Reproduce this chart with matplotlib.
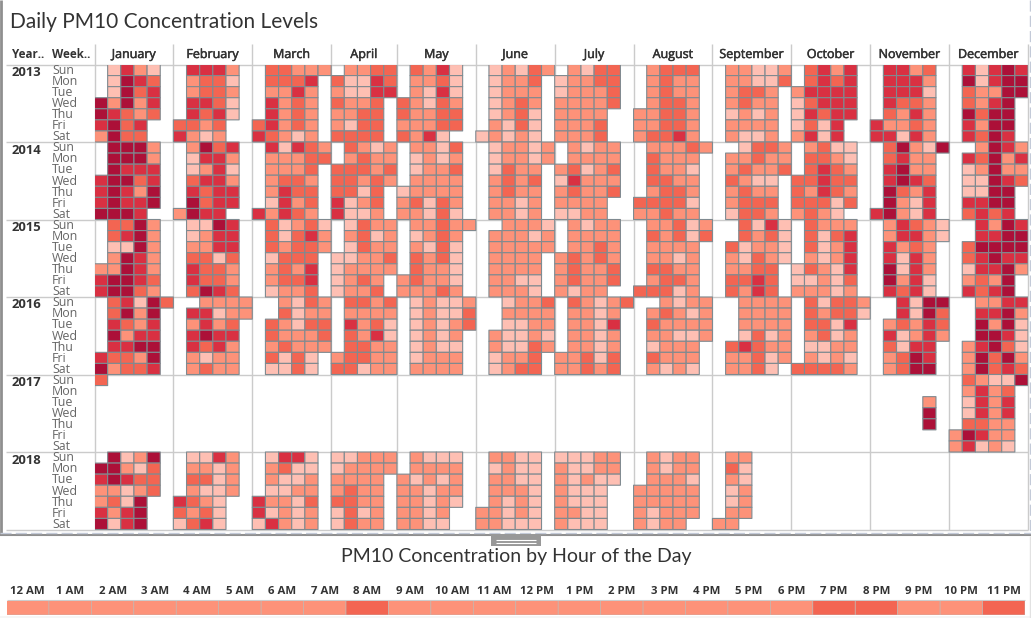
import numpy as np
import matplotlib
matplotlib.use("Agg")
import matplotlib.pyplot as plt
import matplotlib.patheffects as pe
from matplotlib.colors import ListedColormap, BoundaryNorm
from matplotlib.patches import Rectangle

W, H = 1031, 618
plt.rcParams['font.family'] = ['Open Sans', 'DejaVu Sans']

# colour levels, 1 = lightest, 5 = darkest
LEVEL_COLORS = ['#FEBFB3', '#FD9279', '#F36552', '#D93042', '#AC1038']

MONTHS = ['January', 'February', 'March', 'April', 'May', 'June', 'July',
          'August', 'September', 'October', 'November', 'December']
MONTH_COLS = [6, 6, 6, 5, 6, 6, 6, 6, 6, 6, 6, 6]
DAYS = ['Sun', 'Mon', 'Tue', 'Wed', 'Thu', 'Fri', 'Sat']
YEARS = [2013, 2014, 2015, 2016, 2017, 2018]

# one string per month, one token per weekday (Sun..Sat), one char per week column
Y2013 = [
    ".1421. .1543. .1534. 52524. 54323. 4534.. 2533..",
    ".4442. .2331. .2332. .4431. .4341. 3323.. 4212..",
    ".33222 .3334. .2242. .4232. .4232. 34232. 43212.",
    ".2233 31143 21144 3223. 2233. 2133. 3333.",
    ".3241. .2231. .2141. 32132. 32233. 22233. 3241..",
    ".12132 .1223. .1222. .1232. .1231. .2131. 12121.",
    ".2133. 12233. 12223. 22223. 2222.. 2223.. 2223..",
    ".2333. .2322. .2322. .2332. 22332. 22332. 23342.",
    ".22112 .22113 .2332. .2322. .1212. .2222. .2112.",
    ".3424. .3434. 24444. 13444. 14344. 1314.. 2414..",
    ".4423. .4442. .4441. .4332. .3242. 42232. 44142.",
    ".41454 .51455 .32255 .3245. .5355. .4255. .4354.",
]
Y2014 = [
    ".5552. .5552. .5444. 45534. 45425. 45445. 5554..",
    ".2534. .1442. .1241. .3442. .4344. .5344. 2544..",
    ".41432 .22233 .2223. .2332. .2433. .1423. 42432.",
    ".3212 .2322 33323 33232 3313. 4123. 4112.",
    ".2213. .1212. .1223. .2222. 12222. 23132. 22131.",
    ".12212 .12212 .1322. .2323. .2322. .2212. .2212.",
    ".2122. .2222. 23123. 14222. 23223. 2222.. 1122..",
    ".22232 .3222. .3221. .3322. .2332. 33331. 22322.",
    "..1332 .22322 .23223 .3211. .2322. .2333. .1332.",
    ".2311. .3321. .3432. 33433. 32432. 33313. 2321..",
    ".35215 .3422. .4522. .4543. .5324. .5214. 45214.",
    "..2542 .43524 .12522 .11543 .1155. .4455. .3434.",
]
Y2015 = [
    ".3352. .3452. .1152. .2542. 22542. 45543. 45532.",
    ".1154. .1244. .2244. .3313. .4332. .4332. .3543.",
    ".31231 .31342 .32332 .1333. .2324. .2334. .1223.",
    ".1322 .2312 .1322 11223 12222 1232. 1223.",
    ".22322 .1232. .2131. .3231. .3221. 23221. 22232.",
    "..2221 .22212 .22222 .2222. .2222. .2211. .2221.",
    ".2122. .2222. .2232. 23232. 23223. 23223. 2122..",
    ".22312 .32313 .2222. .2212. .3322. .2332. 33312.",
    "..3141 ..3231 .31221 .21321 .2233. .3343. .3243.",
    ".3222. .3134. .3124. .2124. 13214. 11213. 22212.",
    ".24321 .24421 .4232. .4142. .5142. .5241. .4341.",
    "..4254 ..4455 .35555 .34544 .14452 .2325. .4345.",
]
Y2016 = [
    ".34153 .3525. .4324. .5244. .4455. 43325. 52334.",
    "..2222 .44122 .2423. .4544. .4342. .2122. .2322.",
    "..2132 ..3122 .32133 .32223 .23222 .3131. .1131.",
    ".3323 .2222 .4231 .3241 .3322 23322 33122",
    ".12112 .12113 .12123 .1212. .1211. .1222. .2222.",
    "..1223 ..2222 ..1122 .21121 .21132 .1223. .1233.",
    ".32123 .2212. .2214. .2212. .2212. 22313. 22323.",
    "..2122 .23212 .32222 .22112 .1222. .3222. .2121.",
    "..2222 ..2222 ..2222 ..1312 .34322 .22312 .2231.",
    ".31332 .32331 .3314. .2312. .1122. .2121. 33332.",
    "..4155 ..4153 .23243 .41242 .3144. .2354. .2355.",
    "..2244 ..4452 ..5251 ..5541 .24531 .25352 .25343",
]
Y2017 = [
    "3..... ...... ...... ...... ...... ...... ......",
    None, None, None, None, None, None, None, None, None,
    "...... ...... ....2. ....5. ....5. ...... ......",
    ".32115 .2423. .1424. .1424. .3322. 25422. 24121.",
]
Y2018 = [
    ".5125. 55213. 45433. 22123. 2315.. 4245.. 5145..",
    ".1142. .2212. .3312. .2112. 4321.. 3231.. 1341..",
    ".1441. .2311. .2112. .1122. 42213. 41212. 14212.",
    "11222 12222 2222. 2322. 3322. 1312. 1322.",
    ".2111. .2222. 21212. 22122. 22121. 2212.. 2211..",
    ".2211. .1211. .2211. .2221. .2121. 22121. 22111.",
    "11122 21122 21211 2111. 2111. 2211. 2111.",
    ".2122. .2122. .2221. 22222. 22222. 21222. 2122..",
    ".22... .31... .21... .12... .12... .22... 22....",
    None, None, None,
]

HOURS = ['12 AM', '1 AM', '2 AM', '3 AM', '4 AM', '5 AM', '6 AM', '7 AM', '8 AM', '9 AM', '10 AM', '11 AM',
         '12 PM', '1 PM', '2 PM', '3 PM', '4 PM', '5 PM', '6 PM', '7 PM', '8 PM', '9 PM', '10 PM', '11 PM']
HOUR_LEVELS = [2, 2, 2, 2, 2, 2, 2, 2, 3, 2, 2, 2, 2, 2, 2, 2, 2, 2, 2, 3, 3, 2, 2, 3]


def year_grid(blocks):
    # turn the month blocks of a year into a 7 x 71 array, nan = no cell
    cols = []
    for block, n in zip(blocks, MONTH_COLS):
        if block is None:
            cols.append(np.full((7, n), np.nan))
            continue
        rows = [[np.nan if c == '.' else float(c) for c in tok.ljust(n, '.')] for tok in block.split()]
        cols.append(np.array(rows))
    return np.hstack(cols)


grid = np.vstack([year_grid(b) for b in [Y2013, Y2014, Y2015, Y2016, Y2017, Y2018]])
cmap = ListedColormap(LEVEL_COLORS)
norm = BoundaryNorm(np.arange(0.5, 6.5), 5)

fig = plt.figure(figsize=(W / 100, H / 100), dpi=100, facecolor='white')


def px_axes(x0, y0, x1, y1):
    return fig.add_axes([x0 / W, 1 - y1 / H, (x1 - x0) / W, (y1 - y0) / H])


# overlay in pixels, for the frame, the separators and the labels
ov = px_axes(0, 0, W, H)
ov.set_xlim(0, W)
ov.set_ylim(H, 0)
ov.axis('off')

GX0, GX1, GY0, GY1 = 94.5, 1028.0, 64.5, 529.5
cell_w = (GX1 - GX0) / grid.shape[1]
cell_h = (GY1 - GY0) / grid.shape[0]

# separators
LINE = '#cbcbcb'
ov.hlines(GY0, 6, GX1, color=LINE, lw=1.0, zorder=1)
for i in range(1, 7):
    ov.hlines(GY0 + i * 7 * cell_h, 6, GX1, color=LINE, lw=1.0, zorder=1)
edges = np.concatenate([[0], np.cumsum(MONTH_COLS)])
for e in edges:
    ov.vlines(GX0 + e * cell_w, 44, GY1, color=LINE, lw=1.0, zorder=1)

# calendar cells
ax = px_axes(GX0, GY0, GX1, GY1)
ax.patch.set_alpha(0)
ax.pcolor(np.arange(grid.shape[1] + 1), np.arange(grid.shape[0] + 1), np.ma.masked_invalid(grid),
          cmap=cmap, norm=norm, edgecolors='#7f8a90', linewidth=0.8)
ax.set_xlim(0, grid.shape[1])
ax.set_ylim(grid.shape[0], 0)
ax.axis('off')

# titles and headers
ov.text(10.5, 21.5, 'Daily PM10 Concentration Levels', fontsize=15.0, color='#333333', va='center', ha='left',
        family=['Lato', 'DejaVu Sans'])
ov.text(516, 556.5, 'PM10 Concentration by Hour of the Day', fontsize=14.0, color='#333333', va='center', ha='center',
        family=['Lato', 'DejaVu Sans'])
ov.text(12, 54.5, 'Year..', fontsize=8.4, fontweight='bold', color='#333333', va='center')
ov.text(52, 54.5, 'Week..', fontsize=8.4, fontweight='bold', color='#333333', va='center')
for m, a, b in zip(MONTHS, edges[:-1], edges[1:]):
    ov.text(GX0 + (a + b) / 2 * cell_w, 54.5, m, fontsize=9.0, color='#333333', va='center', ha='center',
            path_effects=[pe.withStroke(linewidth=0.35, foreground='#333333')])
for i, y in enumerate(YEARS):
    ov.text(12, GY0 + i * 7 * cell_h + 8, str(y), fontsize=9.4, fontweight='bold', color='#333333', va='center')
    for j, d in enumerate(DAYS):
        ov.text(52, GY0 + (i * 7 + j + 0.5) * cell_h + 0.3, d, fontsize=8.9, color='#666666', va='center')

# hour strip
hx = px_axes(6.5, 600.5, 1025, 615)
hx.pcolor(np.arange(25), [0, 1], np.array([HOUR_LEVELS], dtype=float), cmap=cmap, norm=norm,
          edgecolors='#c4b4ae', linewidth=0.5)
hx.set_xlim(0, 24)
hx.set_ylim(1, 0)
hx.axis('off')
hw = (1025 - 6.5) / 24
ov.hlines(600.2, 6.5, 1025, color='#cccccc', lw=0.8)
for i, h in enumerate(HOURS):
    ov.text(6.5 + (i + 0.5) * hw, 591, h, fontsize=8.2, fontweight='bold', color='#333333', va='center', ha='center')

# dashboard frame
ov.add_patch(Rectangle((0, 615.5), W, 3, fc='#f6f6f6', ec='none', zorder=0))
ov.vlines(1, 0, 535, color='#8f8f8f', lw=2)
ov.hlines(535, 0, W, color='#8f8f8f', lw=1.5, zorder=3)
ov.hlines(533, 0, W, color='#c3cad8', lw=1, linestyles=(0, (8, 3)), zorder=3)
ov.vlines(1030, 0, 535, color='#c3cad8', lw=1, linestyles=(0, (8, 3)))
ov.vlines(1030, 536, 618, color='#e2e2e2', lw=1)
ov.add_patch(Rectangle((491, 534), 50, 11.5, fc='#989898', ec='none', zorder=4))
ov.hlines([539.7, 543.2], 496, 536, color='white', lw=0.8, zorder=5)

fig.savefig('out.png', dpi=100)
